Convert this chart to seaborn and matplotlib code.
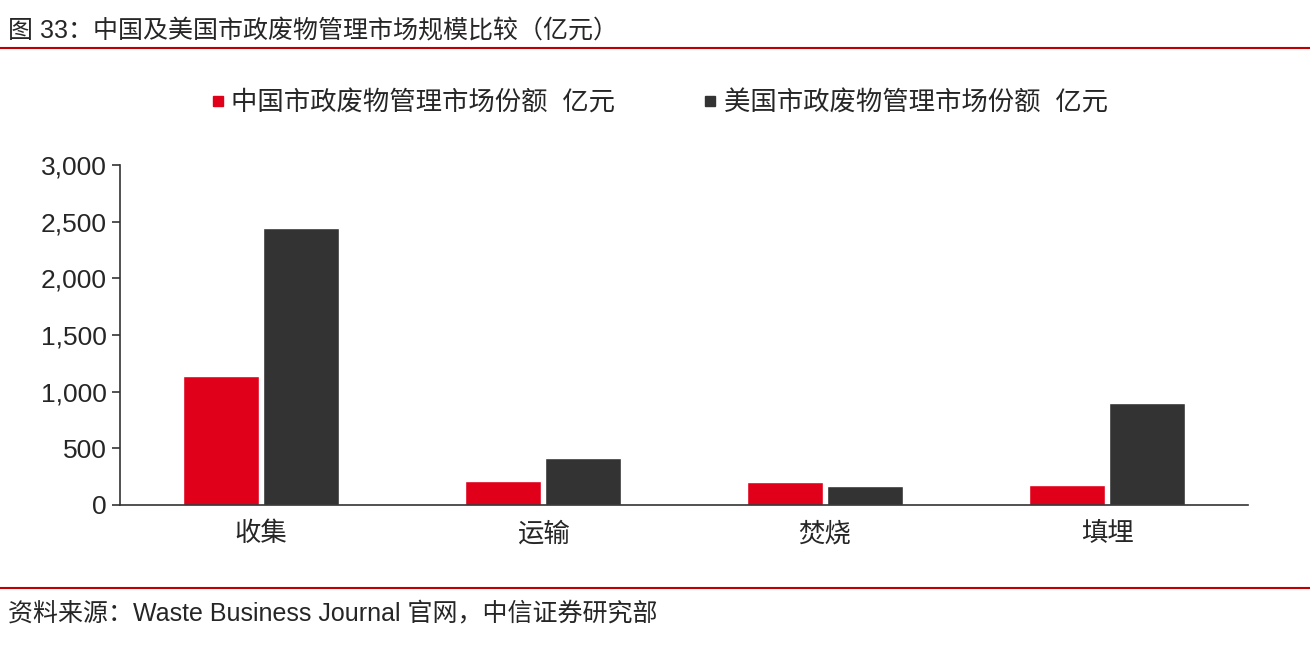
import pandas as pd
import seaborn as sns
import matplotlib.pyplot as plt
from matplotlib.lines import Line2D
from matplotlib.ticker import FixedLocator

categories = ["收集", "运输", "焚烧", "填埋"]
china = [1140, 212, 203, 177]
usa = [2450, 415, 168, 900]
series = ["中国市政废物管理市场份额  亿元", "美国市政废物管理市场份额  亿元"]
COLORS = ["#E1001A", "#333333"]

df = pd.DataFrame({
    "cat": categories * 2,
    "val": china + usa,
    "series": [series[0]] * 4 + [series[1]] * 4,
})

sns.set_style("white")
plt.rcParams['font.family'] = ['Liberation Sans', 'Noto Sans CJK SC', 'DejaVu Sans']

fig = plt.figure(figsize=(13.1, 6.48), dpi=100)
ax = fig.add_axes([0.0916, 0.2207, 0.8611, 0.5243])
sns.barplot(data=df, x="cat", y="val", hue="series", palette=COLORS,
            saturation=1, width=0.57, gap=0.06, ax=ax, legend=False)

ax.set_xlim(-0.5, 3.5)
ax.set_ylim(0, 3000)
ax.set_yticks(range(0, 3001, 500))
ax.set_yticklabels([f"{v:,}" for v in range(0, 3001, 500)], fontsize=19)
ax.set_xlabel("")
ax.set_ylabel("")
ax.tick_params(axis="x", which="major", length=0, labelsize=19, pad=12)
ax.xaxis.set_minor_locator(FixedLocator([-0.5, 0.5, 1.5, 2.5, 3.5]))
ax.tick_params(axis="x", which="minor", length=6, width=1.2, color="#333333")
ax.tick_params(axis="y", length=6, width=1.2, color="#333333", left=True)
for s in ["top", "right"]:
    ax.spines[s].set_visible(False)
for s in ["left", "bottom"]:
    ax.spines[s].set_color("#333333")
    ax.spines[s].set_linewidth(1.2)

handles = [Line2D([], [], marker="s", linestyle="", markersize=7, color=c) for c in COLORS]
fig.legend(handles, series, loc="center", bbox_to_anchor=(0.5, 1 - 103 / 648),
           ncol=2, frameon=False, fontsize=19, handletextpad=-0.1, handlelength=1.2,
           columnspacing=3.0)

fig.text(0.006, 1 - 31 / 648, "图 33：中国及美国市政废物管理市场规模比较（亿元）", fontsize=18, va="center")
fig.add_artist(Line2D([0, 1], [1 - 48 / 648] * 2, color="#C00000", linewidth=1.5))
fig.add_artist(Line2D([0, 1], [1 - 588 / 648] * 2, color="#C00000", linewidth=1.5))
fig.text(0.006, 1 - 613 / 648, "资料来源：Waste Business Journal 官网，中信证券研究部", fontsize=18, va="center")

fig.savefig("out.png", dpi=100)
